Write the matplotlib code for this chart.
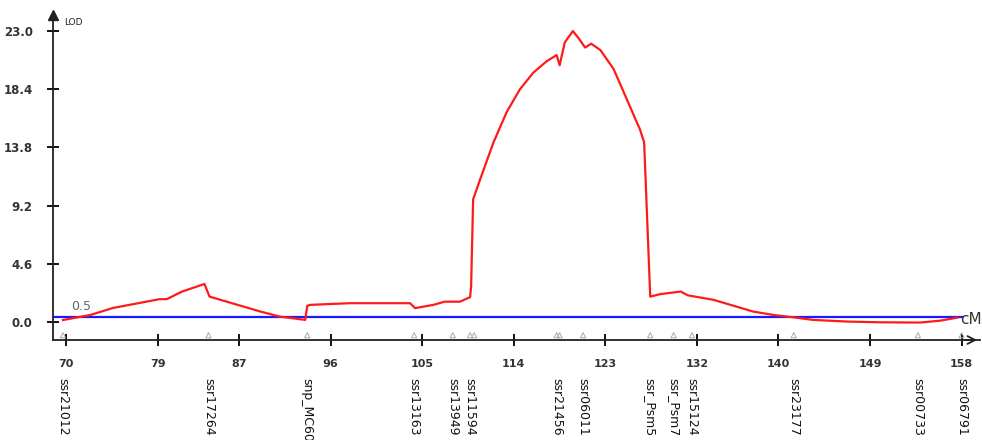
import matplotlib
matplotlib.use("Agg")
import matplotlib.pyplot as plt

# LOD profile (cM, LOD)
pos_cm = [69.7, 72.4, 74.6, 79.2, 79.9, 81.4, 83.6, 84.1, 89.1, 91.0, 93.5, 93.7, 94.0,
          97.9, 103.8, 104.3, 106.1, 107.2, 108.7, 109.7, 109.8, 110.0, 110.7, 112.0,
          113.3, 114.6, 115.9, 117.2, 118.2, 118.5, 119.0, 119.8, 120.3, 121.0, 121.6,
          122.5, 123.8, 125.1, 126.4, 126.8, 127.4, 128.4, 130.4, 131.1, 133.6, 137.5,
          139.5, 141.4, 143.4, 146.7, 150.0, 153.9, 155.9, 157.6]
lod = [0.15, 0.55, 1.1, 1.8, 1.8, 2.4, 3.0, 2.0, 0.82, 0.42, 0.16, 1.27, 1.35,
       1.48, 1.48, 1.09, 1.35, 1.6, 1.6, 1.96, 2.8, 9.7, 11.3, 14.2,
       16.6, 18.4, 19.7, 20.6, 21.1, 20.3, 22.1, 23.0, 22.5, 21.7, 22.0,
       21.5, 20.0, 17.6, 15.2, 14.2, 2.0, 2.2, 2.4, 2.1, 1.75, 0.82,
       0.55, 0.37, 0.16, 0.03, -0.03, -0.05, 0.1, 0.34]

threshold = 0.5

y_ticks = [0.0, 4.6, 9.2, 13.8, 18.4, 23.0]
x_ticks = [70, 79, 87, 96, 105, 114, 123, 132, 140, 149, 158]

marker_names = ["ssr21012", "ssr17264", "snp_MC60", "ssr13163", "ssr13949", "ssr11594",
                "ssr21456", "ssr06011", "ssr_Psm5", "ssr_Psm7", "ssr15124", "ssr23177",
                "ssr00733", "ssr06791"]
marker_cm = [69.7, 84.0, 93.7, 104.2, 108.0, 109.7, 118.2, 120.8, 127.4, 129.7, 131.5,
             141.5, 153.7, 158.0]
extra_marker_cm = [110.1, 118.5]

fig = plt.figure(figsize=(9.82, 4.4), dpi=100)
ax = fig.add_axes([53/982, 100/440, 927/982, 325/440])
ax.set_xlim(68.72, 159.8)
ax.set_ylim(-1.43, 24.27)

ax.plot(pos_cm, lod, color="#ff1a1a", lw=1.6, zorder=3)
ax.plot([ax.get_xlim()[0], 158], [threshold - 0.08, threshold - 0.08], color="#1a1aff",
        lw=1.6, zorder=2)
ax.text(70.5, threshold + 0.2, "0.5", color="#666666", fontsize=9, va="bottom", ha="left")

# marker triangles
ax.scatter(marker_cm + extra_marker_cm, [-1.05] * (len(marker_cm) + len(extra_marker_cm)),
           marker="^", s=14, facecolors="none", edgecolors="#aaaaaa", linewidths=0.7,
           zorder=2, clip_on=False)

for s in ["top", "right"]:
    ax.spines[s].set_visible(False)
for s in ["left", "bottom"]:
    ax.spines[s].set_linewidth(1.3)
    ax.spines[s].set_color("#222222")

ax.set_yticks(y_ticks)
ax.set_yticklabels([f"{v:.1f}" for v in y_ticks], fontsize=8.5, fontweight="bold",
                   color="#333333")
ax.set_xticks(x_ticks)
ax.set_xticklabels([str(v) for v in x_ticks], fontsize=8, fontweight="bold",
                   color="#333333")
ax.tick_params(axis="y", direction="inout", length=9, width=1.3, pad=10)
ax.tick_params(axis="x", direction="inout", length=9, width=1.3, pad=9)

# axis arrows
ax.annotate("", xy=(1.0, 0), xytext=(0.98, 0), xycoords="axes fraction",
            arrowprops=dict(arrowstyle="->", color="#222222", lw=1.3, mutation_scale=14),
            annotation_clip=False)
ax.plot(0, 1.0, marker="^", color="#222222", ms=7, transform=ax.transAxes, clip_on=False)

ax.text(0.012, 0.99, "LOD", transform=ax.transAxes, fontsize=6.5, va="top", ha="left",
        color="#222222")
ax.text(0.979, 0.062, "cM", transform=ax.transAxes, fontsize=11, va="center", ha="left",
        color="#333333")

# marker labels
for name, cm in zip(marker_names, marker_cm):
    ax.text(cm, -4.4, name, rotation=270, fontsize=9, ha="center", va="top",
            color="#111111", clip_on=False)

fig.savefig("out.png", dpi=100)
